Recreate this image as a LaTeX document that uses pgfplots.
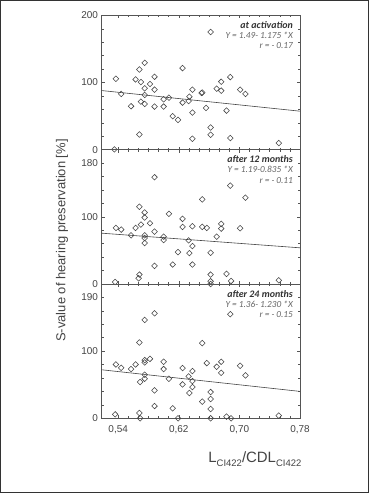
\documentclass[border=0pt]{standalone}
\usepackage{pgfplots}
\pgfplotsset{compat=1.18}
\usepackage{fontspec}
\setmainfont{Liberation Sans}
\newfontfamily\calib{Carlito}
\definecolor{txt}{HTML}{444444}
\definecolor{axc}{HTML}{555555}
\definecolor{eqc}{HTML}{666666}
\definecolor{frm}{HTML}{333333}
\pgfplotsset{
  panel/.style={
    at={(101.5bp,#1)}, anchor=south west,
    scale only axis, width=198.5bp, height=134.3bp,
    xmin=0.518, xmax=0.78, ymin=0, ymax=200,
    xtick={0.54,0.62,0.70,0.78},
    minor x tick num=5,
    ytick={0,100,200},
    minor y tick num=4,
    tick align=inside,
    major tick length=3bp, minor tick length=2bp,
    axis line style={axc, line width=0.8bp},
    every tick/.append style={axc, line width=0.5bp},
    tick label style={font=\fontsize{10}{12}\selectfont, text=txt},
    x tick label style={yshift=-4bp},
    /pgf/number format/assume math mode=true,
    clip=false,
  },
  pts/.style={only marks, mark=square, mark size=2.0bp, mark options={rotate=45, draw=txt, fill=white, line width=0.55bp}},
  reg/.style={no marks, txt, line width=0.6bp},
}
\tikzset{
  ttl/.style={anchor=east, inner sep=0pt, text=frm, font=\calib\bfseries\itshape\fontsize{10}{12}\selectfont},
  eqn/.style={anchor=east, inner sep=0pt, text=eqc, font=\calib\itshape\fontsize{9.3}{10}\selectfont},
}
\pgfplotstableread{
x y
0.537 105.7
0.544 83
0.535 0.5
0.557 64.7
0.563 104.7
0.568 119.5
0.570 100.7
0.575 129.4
0.575 91.4
0.575 81.5
0.570 71.6
0.575 68.1
0.568 22.7
0.582 97.8
0.588 108.6
0.588 89.4
0.588 64.2
0.600 75.1
0.600 64.2
0.607 77.5
0.612 49.9
0.619 44.4
0.625 121.5
0.625 70.1
0.634 79
0.633 72.6
0.638 89.4
0.638 55.3
0.638 16.3
0.650 84.4
0.651 85
0.656 62.2
0.662 175.3
0.662 33.1
0.662 22.2
0.670 90.9
0.676 101.2
0.676 87.9
0.683 58.3
0.688 108.1
0.688 17.3
0.701 89.4
0.708 83
0.752 9.9
}\dataA
\pgfplotstableread{
x y
0.588 159
0.537 83.5
0.544 81
0.557 72.5
0.563 83.5
0.568 115
0.570 88.5
0.575 106.5
0.575 99
0.582 90.5
0.575 72.5
0.575 68.5
0.575 61
0.588 78
0.600 70.5
0.600 65.5
0.607 104.5
0.619 47.5
0.612 29
0.588 27
0.625 97
0.625 85
0.638 86
0.633 65
0.634 46
0.638 56.5
0.638 29
0.651 126
0.651 85
0.657 83.5
0.662 46.5
0.662 14
0.662 4
0.662 0
0.670 70.5
0.676 89.5
0.676 82.5
0.683 15
0.688 146.5
0.689 4.5
0.701 83
0.708 128.5
0.752 5.5
0.568 14
0.567 8.5
0.536 3
}\dataB
\pgfplotstableread{
x y
0.536 5.9
0.537 80.2
0.544 75.2
0.557 73.3
0.563 80.2
0.568 112.9
0.575 146.5
0.588 156.4
0.575 86.6
0.582 88.6
0.575 83.2
0.569 54
0.575 58.9
0.575 64.9
0.588 41.6
0.588 18.3
0.568 7.9
0.569 0
0.600 84.2
0.600 73.3
0.607 58.9
0.612 14.9
0.619 0
0.625 74.8
0.625 50.5
0.633 62.4
0.638 70.3
0.638 55.4
0.638 46.5
0.634 37.6
0.651 111.9
0.651 24.8
0.657 82.2
0.662 39.1
0.662 28.7
0.662 13.9
0.662 0
0.670 76.7
0.676 84.2
0.676 67.8
0.683 2.5
0.688 155
0.689 0
0.701 78.2
0.708 63.9
0.752 4
}\dataC
\begin{document}
\begin{tikzpicture}
\useasboundingbox (0,0) rectangle (369bp,494bp);
\fill[white] (0,0) rectangle (369bp,494bp);
% panel 1
\begin{axis}[panel=344.3bp, xticklabels={}, yticklabels={0,100,200}]
\addplot[reg] coordinates {(0.518,88.1) (0.78,57.35)};
\addplot[pts] table[x=x,y=y] {\dataA};
\node[ttl] at (rel axis cs:0.965,0.927) {at activation};
\node[eqn] at (rel axis cs:0.965,0.851) {Y = 1.49- 1.175 *X};
\node[eqn] at (rel axis cs:0.965,0.774) {r = - 0.17};
\end{axis}
% panel 2
\begin{axis}[panel=210bp, xticklabels={}, yticklabels={0,100,{}},
  extra y ticks={180}, extra y tick labels={180}, extra y tick style={major tick length=0pt}]
\addplot[reg] coordinates {(0.518,75.7) (0.78,53.87)};
\addplot[pts] table[x=x,y=y] {\dataB};
\node[ttl] at (rel axis cs:0.965,0.927) {after 12 months};
\node[eqn] at (rel axis cs:0.965,0.851) {Y = 1.19-0.835 *X};
\node[eqn] at (rel axis cs:0.965,0.774) {r = - 0.11};
\end{axis}
% panel 3
\begin{axis}[panel=75.7bp, xticklabels={{0,54},{0,62},{0,70},{0,78}}, yticklabels={0,100,{}},
  extra y ticks={180}, extra y tick labels={190}, extra y tick style={major tick length=0pt}]
\addplot[reg] coordinates {(0.518,72.29) (0.78,40.06)};
\addplot[pts] table[x=x,y=y] {\dataC};
\node[ttl] at (rel axis cs:0.965,0.927) {after 24 months};
\node[eqn] at (rel axis cs:0.965,0.851) {Y = 1.36- 1.230 *X};
\node[eqn] at (rel axis cs:0.965,0.774) {r = - 0.15};
\end{axis}
\node[rotate=90, text=txt, font=\fontsize{13}{15}\selectfont] at (62bp,253.5bp) {S-value of hearing preservation [\%]};
\node[anchor=base east, inner sep=0pt, text=txt, font=\fontsize{15}{17}\selectfont] at (301.5bp,31.3bp)
  {L\raisebox{-0.28em}{\fontsize{9.5}{10}\selectfont CI422}/CDL\raisebox{-0.28em}{\fontsize{9.5}{10}\selectfont CI422}};
\draw[frm, line width=1.4bp] (0.7bp,1.5bp) rectangle (368.3bp,493.3bp);
\end{tikzpicture}
\end{document}
